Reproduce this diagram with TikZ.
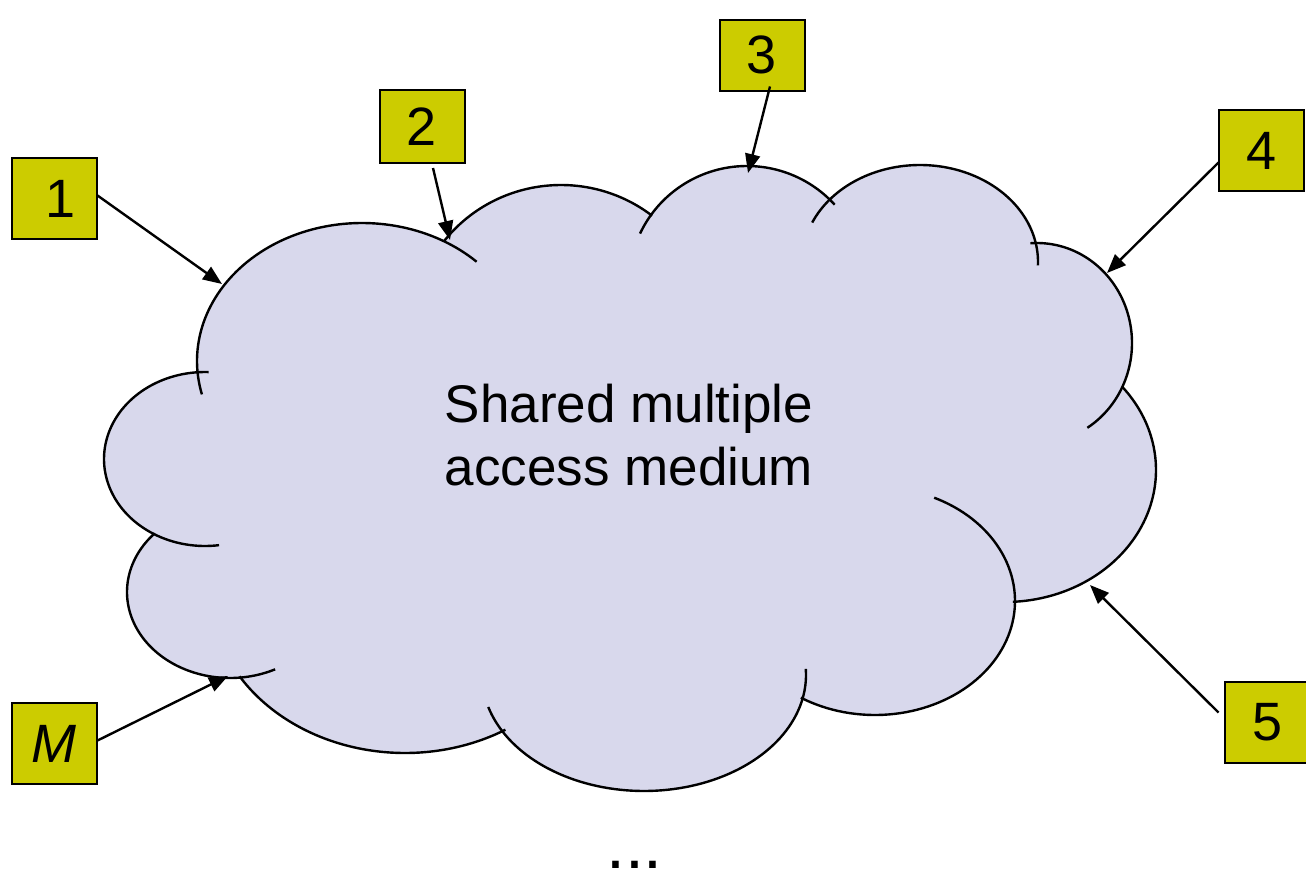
\documentclass[tikz,border=0pt]{standalone}
\usepackage{fontspec}
\setmainfont{Liberation Sans}
\usetikzlibrary{arrows.meta,calc}

\definecolor{cloudfill}{RGB}{216,216,236}
\definecolor{tagfill}{RGB}{204,204,0}

% one lobe of the cloud: centre (#1,#2), radii #3 and #4
\newcommand\lobefill[4]{%
  \fill[cloudfill] plot[domain=0:360, samples=90, variable=\t]
    ({#1+#3*cos(\t)},{#2+#4*sin(\t)}) -- cycle;}
% visible part of a lobe, from angle #5 to angle #6
\newcommand\lobeedge[6]{%
  \draw[lobe] plot[domain=#5:#6, samples=80, variable=\t]
    ({#1+#3*cos(\t)},{#2+#4*sin(\t)});}

\begin{document}
\begin{tikzpicture}[x=1pt, y=-1pt,
  tag/.style={draw=black, line width=2pt, fill=tagfill, inner sep=0pt,
              minimum width=85pt, font=\fontsize{54}{60}\selectfont},
  lobe/.style={draw=black, line width=2.4pt},
  pointer/.style={draw=black, line width=2.4pt,
                  -{Triangle[length=19pt,width=15pt]}}]
\useasboundingbox (0,0) rectangle (1306,878);

% cloud body
\lobefill{362}{361}{165}{138}
\lobefill{561}{330}{148}{145}
\lobefill{747}{283}{118}{117}
\lobefill{920}{262}{118}{97}
\lobefill{1037}{343}{95}{100}
\lobefill{1005}{470}{151}{132}
\lobefill{875}{601}{140}{114}
\lobefill{644}{675}{162}{116}
\lobefill{405}{590}{195}{163}
\lobefill{230}{592}{103}{86}
\lobefill{205}{459}{101}{87}
\fill[cloudfill] (362,361) -- (561,330) -- (747,283) -- (920,262)
  -- (1037,343) -- (1005,470) -- (875,601) -- (644,675) -- (405,590)
  -- (230,592) -- (205,459) -- cycle;

% cloud outline
\lobeedge{362}{361}{165}{138}{166}{314}
\lobeedge{561}{330}{148}{145}{218}{308}
\lobeedge{747}{283}{118}{117}{205}{318}
\lobeedge{920}{262}{118}{97}{204}{362}
\lobeedge{1037}{343}{95}{100}{266}{418}
\lobeedge{1005}{470}{151}{132}{-39}{87}
\lobeedge{875}{601}{140}{114}{-65}{122}
\lobeedge{644}{675}{162}{116}{-3}{164}
\lobeedge{405}{590}{195}{163}{59}{148}
\lobeedge{230}{592}{103}{86}{64}{223}
\lobeedge{205}{459}{101}{87}{82}{272}

\node[font=\fontsize{53}{63}\selectfont, align=center] (medium) at (629,435)
  {Shared multiple\\access medium};

\node[font=\fontsize{68}{72}\selectfont, anchor=base, inner sep=0pt] (more)
  at (634.5,868) {...};

% stations
\node[tag, minimum height=81pt] (s1) at (54,198.5) {\hspace{14pt}1};
\node[tag, minimum height=73pt] (s2) at (422,126.5) {2};
\node[tag, minimum height=71pt] (s3) at (762,55) {3};
\node[tag, minimum height=81pt] (s4) at (1261,150.5) {4\hspace{16pt}};
\node[tag, minimum height=81pt] (s5) at (1267,722.5) {5\hspace{8pt}};
\node[tag, minimum height=81pt] (sM) at (54,743.5) {\itshape M};

% attachment points on the cloud
\coordinate (p1) at (222,284);
\coordinate (p2) at (450,240);
\coordinate (p3) at (748,173);
\coordinate (p4) at (1107,273);
\coordinate (p5) at (1090,585);
\coordinate (pM) at (228,676);

\draw[pointer] ($(s1.east)+(0,-3)$) -- (p1);
\draw[pointer] ($(s2.south)+(11,4)$) -- (p2);
\draw[pointer] ($(s3.south)+(8,-5)$) -- (p3);
\draw[pointer] ($(s4.west)+(1,12)$) -- (p4);
\draw[pointer] ($(s5.west)+(-5,-10)$) -- (p5);
\draw[pointer] ($(sM.east)+(0,-3)$) -- (pM);
\end{tikzpicture}
\end{document}
